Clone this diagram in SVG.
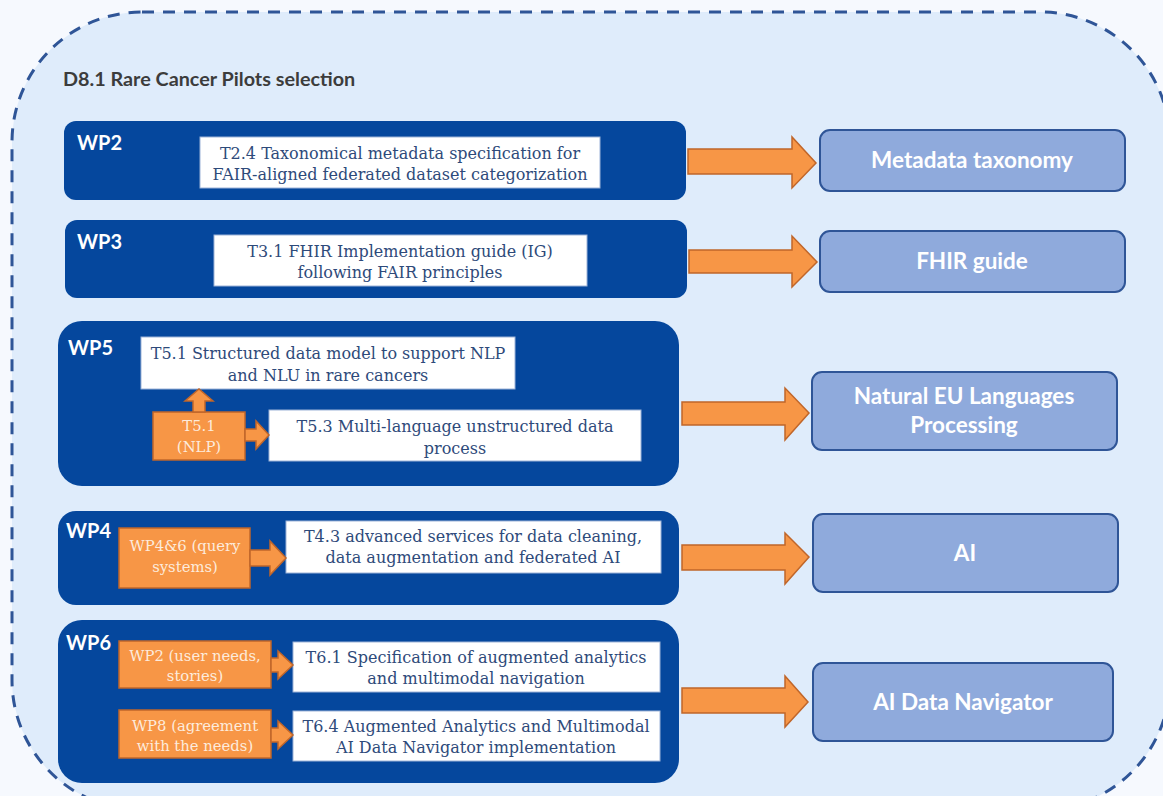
<svg xmlns="http://www.w3.org/2000/svg" width="1163" height="796" viewBox="0 0 1163 796">
<style>
.wp{fill:#05479D;}
.wpl{font-family:Lato,"Liberation Sans",sans-serif;font-weight:bold;font-size:20px;fill:#fff;}
.wb{fill:#fff;stroke:#9DB3D8;stroke-width:1;}
.wt{font-family:"DejaVu Serif","Liberation Serif",serif;font-size:16px;fill:#2E4A7A;text-anchor:middle;}
.ob{fill:#F79646;stroke:#C0662A;stroke-width:1.5;}
.ot{font-family:"DejaVu Serif","Liberation Serif",serif;font-size:14.8px;fill:#FDEBDC;text-anchor:middle;}
.out{fill:#8FAADC;stroke:#2F5597;stroke-width:2;}
.outt{font-family:Lato,"Liberation Sans",sans-serif;font-weight:bold;font-size:22.5px;fill:#fff;text-anchor:middle;}
.arr{fill:#F79646;stroke:#C0662A;stroke-width:1.5;stroke-linejoin:miter;}
</style>
<rect x="0" y="0" width="1163" height="796" fill="#F6F9FE"/>
<g id="frame">
<rect x="12" y="12" width="1158" height="798" rx="130" ry="130" fill="#DFECFB" stroke="#2F5597" stroke-width="3" stroke-dasharray="12 9"/>
<text x="63" y="86" font-family="Lato,'Liberation Sans',sans-serif" font-weight="bold" font-size="19.8" fill="#3C3C3C">D8.1 Rare Cancer Pilots selection</text>
</g>
<g id="wp2">
<rect class="wp" x="64" y="121" width="622" height="79" rx="12"/>
<text class="wpl" x="77" y="150">WP2</text>
<rect class="wb" x="200" y="137" width="400" height="51"/>
<text class="wt" x="400" y="159">T2.4 Taxonomical metadata specification for</text>
<text class="wt" x="400" y="180">FAIR-aligned federated dataset categorization</text>
</g>
<g id="wp3">
<rect class="wp" x="65" y="220" width="622" height="78" rx="12"/>
<text class="wpl" x="77" y="249">WP3</text>
<rect class="wb" x="214" y="235" width="373" height="51"/>
<text class="wt" x="400" y="257">T3.1 FHIR Implementation guide (IG)</text>
<text class="wt" x="400" y="278">following FAIR principles</text>
</g>
<g id="wp5">
<rect class="wp" x="58" y="321" width="621" height="165" rx="24"/>
<text class="wpl" x="68" y="355">WP5</text>
<rect class="wb" x="141" y="337" width="374" height="52"/>
<text class="wt" x="328" y="359">T5.1 Structured data model to support NLP</text>
<text class="wt" x="328" y="381">and NLU in rare cancers</text>
<rect class="wb" x="269" y="410" width="372" height="51"/>
<text class="wt" x="455" y="432">T5.3 Multi-language unstructured data</text>
<text class="wt" x="455" y="454">process</text>
<rect class="ob" x="153" y="412" width="92" height="48"/>
<text class="ot" x="199" y="431">T5.1</text>
<text class="ot" x="199" y="452">(NLP)</text>
</g>
<g id="wp4">
<rect class="wp" x="58" y="511" width="621" height="94" rx="18"/>
<text class="wpl" x="66" y="538">WP4</text>
<rect class="wb" x="286" y="521" width="375" height="52"/>
<text class="wt" x="473" y="542">T4.3 advanced services for data cleaning,</text>
<text class="wt" x="473" y="563">data augmentation and federated AI</text>
<rect class="ob" x="119" y="528" width="131" height="60"/>
<text class="ot" x="185" y="551">WP4&amp;6 (query</text>
<text class="ot" x="185" y="572">systems)</text>
</g>
<g id="wp6">
<rect class="wp" x="58" y="620" width="621" height="163" rx="24"/>
<text class="wpl" x="66" y="650">WP6</text>
<rect class="wb" x="293" y="642" width="367" height="50"/>
<text class="wt" x="476" y="663">T6.1 Specification of augmented analytics</text>
<text class="wt" x="476" y="684">and multimodal navigation</text>
<rect class="wb" x="293" y="711" width="367" height="50"/>
<text class="wt" x="476" y="732">T6.4 Augmented Analytics and Multimodal</text>
<text class="wt" x="476" y="753">AI Data Navigator implementation</text>
<rect class="ob" x="119" y="641" width="152" height="47"/>
<text class="ot" x="195" y="661">WP2 (user needs,</text>
<text class="ot" x="195" y="681">stories)</text>
<rect class="ob" x="119" y="710" width="152" height="48"/>
<text class="ot" x="195" y="731">WP8 (agreement</text>
<text class="ot" x="195" y="751">with the needs)</text>
</g>
<g id="out-metadata">
<rect class="out" x="820" y="130" width="305" height="61" rx="10"/>
<text class="outt" x="972" y="168">Metadata taxonomy</text>
</g>
<g id="out-fhir">
<rect class="out" x="820" y="231" width="305" height="61" rx="10"/>
<text class="outt" x="972" y="269">FHIR guide</text>
</g>
<g id="out-nlp">
<rect class="out" x="812" y="372" width="305" height="78" rx="10"/>
<text class="outt" x="964" y="404">Natural EU Languages</text>
<text class="outt" x="964" y="433">Processing</text>
</g>
<g id="out-ai">
<rect class="out" x="813" y="514" width="305" height="78" rx="10"/>
<text class="outt" x="965" y="561">AI</text>
</g>
<g id="out-nav">
<rect class="out" x="813" y="663" width="300" height="78" rx="10"/>
<text class="outt" x="963" y="710">AI Data Navigator</text>
</g>
<g id="connectors">
<polygon class="arr" points="193,412 193,401 185,401 199,389 213,401 205,401 205,412"/>
<polygon class="arr" points="245,429 256,429 256,421 269,435 256,449 256,441 245,441"/>
<polygon class="arr" points="250,550 270,550 270,541 286,558 270,575 270,566 250,566"/>
<polygon class="arr" points="271,658 278,658 278,651 293,665 278,679 278,672 271,672"/>
<polygon class="arr" points="271,728 278,728 278,721 293,735 278,749 278,742 271,742"/>
<polygon class="arr" points="688,149 792,149 792,137 816,163 792,188 792,174 688,174"/>
<polygon class="arr" points="689,250 792,250 792,236 817,262 792,287 792,273 689,273"/>
<polygon class="arr" points="682,402 785,402 785,388 809,413 785,440 785,425 682,425"/>
<polygon class="arr" points="682,545 785,545 785,533 809,557 785,584 785,570 682,570"/>
<polygon class="arr" points="682,688 785,688 785,676 808,702 785,727 785,713 682,713"/>
</g>
</svg>
